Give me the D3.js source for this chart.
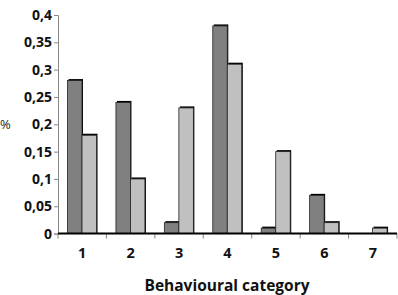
<!DOCTYPE html>
<html><head><meta charset="utf-8">
<script src="https://cdn.jsdelivr.net/npm/d3@7"></script>
<style>body{margin:0;background:#fff}svg{display:block}text{font-family:"Open Sans",sans-serif}</style>
</head><body><svg id="c" width="398" height="295"></svg>
<script>
const categories = ["1","2","3","4","5","6","7"];
const seriesDark = [0.28,0.24,0.02,0.38,0.01,0.07,0];
const seriesLight = [0.18,0.10,0.23,0.31,0.15,0.02,0.01];
const yTicks = [0,0.05,0.1,0.15,0.2,0.25,0.3,0.35,0.4];
const yTickLabels = ["0","0,05","0,1","0,15","0,2","0,25","0,3","0,35","0,4"];
const seriesColors = ["#808080","#c0c0c0"];

(function(){
const svg = d3.select("#c");
const mLeft = 58, mRight = 397, mTop = 15, mBottom = 233.6;
const x = d3.scaleBand().domain(categories).range([mLeft, mRight]).paddingInner(0).paddingOuter(0);
const y = d3.scaleLinear().domain([0,0.4]).range([mBottom, mTop]);
const inner = d3.scaleBand().domain([0,1]).range([9.5, 9.5+29]);

const yAxis = d3.axisLeft(y).tickValues(yTicks).tickFormat((d,i)=>yTickLabels[i]).tickSize(4).tickPadding(2);
const gy = svg.append("g").attr("transform",`translate(${mLeft},0)`).call(yAxis);
gy.select(".domain").attr("stroke","#888").attr("stroke-width",1);
gy.selectAll(".tick line").attr("stroke","#888");
gy.selectAll(".tick text").attr("font-size",14).attr("font-weight",700).attr("fill","#111");

const xAxis = d3.axisBottom(x).tickSize(0).tickPadding(14);
const gx = svg.append("g").attr("transform",`translate(0,${mBottom})`).call(xAxis);
gx.select(".domain").remove();
gx.selectAll(".tick text").attr("font-size",14.5).attr("font-weight",700).attr("fill","#111");
const bounds = categories.map(c=>x(c)).concat([mRight]);
svg.append("g").selectAll("line").data(bounds).join("line")
  .attr("x1",d=>d).attr("x2",d=>d).attr("y1",mBottom).attr("y2",mBottom+5)
  .attr("stroke","#888").attr("stroke-width",1);

const data = [];
categories.forEach((c,i)=>{ data.push({c,s:0,v:seriesDark[i]}); data.push({c,s:1,v:seriesLight[i]}); });
const g = svg.append("g");
g.selectAll("rect.sh").data(data.filter(d=>d.v>0)).join("rect").attr("class","sh")
  .attr("x",d=>x(d.c)+inner(d.s)+1).attr("y",d=>y(d.v)-1.5)
  .attr("width",inner.bandwidth()).attr("height",d=>mBottom-y(d.v)+1.5)
  .attr("fill","#000");
g.selectAll("rect.b").data(data.filter(d=>d.v>0)).join("rect").attr("class","b")
  .attr("x",d=>x(d.c)+inner(d.s)).attr("y",d=>y(d.v))
  .attr("width",inner.bandwidth()).attr("height",d=>mBottom-y(d.v))
  .attr("fill",d=>seriesColors[d.s]).attr("stroke","#222").attr("stroke-width",0.8);

svg.append("line").attr("x1",mLeft).attr("x2",mRight).attr("y1",mBottom).attr("y2",mBottom)
  .attr("stroke","#000").attr("stroke-width",2);

svg.append("text").attr("x",0).attr("y",129).attr("font-size",13).attr("fill","#222").text("%");
svg.append("text").attr("x",227).attr("y",291).attr("text-anchor","middle")
  .attr("font-size",15.5).attr("font-weight",700).attr("fill","#111").text("Behavioural category");
})();
</script></body></html>
